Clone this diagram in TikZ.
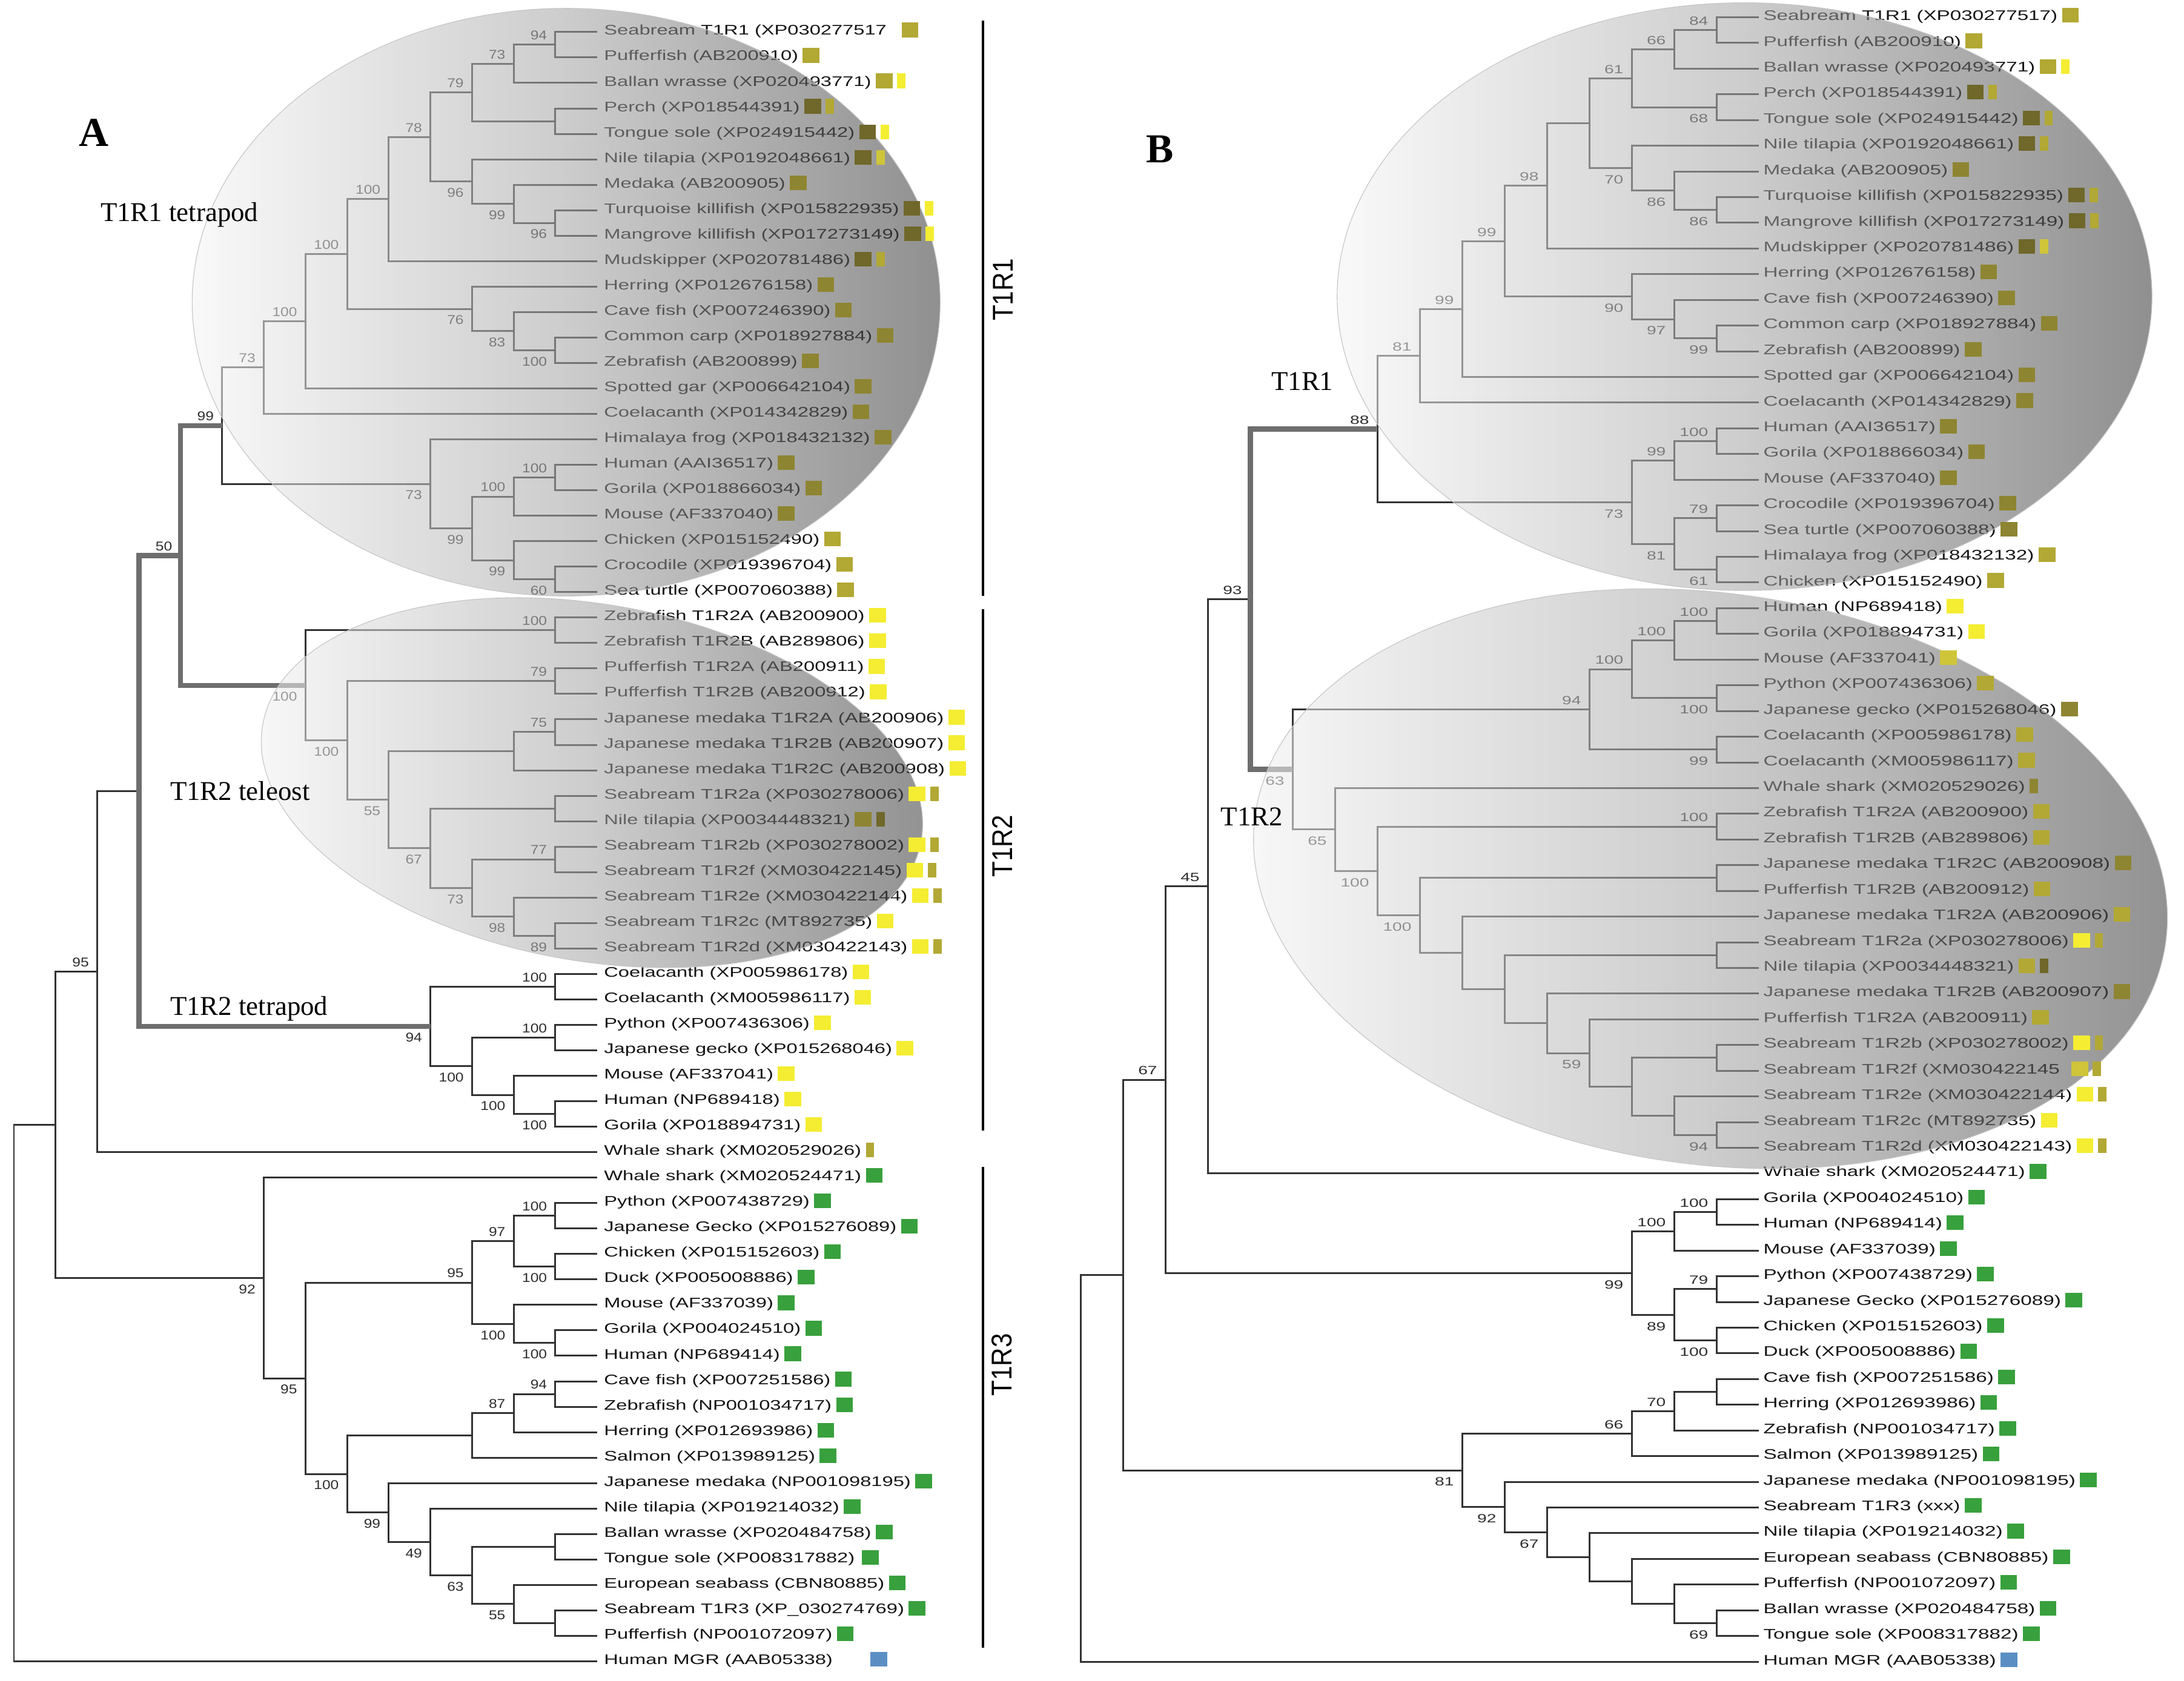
\documentclass[tikz,border=0pt]{standalone}
\usepackage{fontspec}
\setmainfont{Liberation Serif}
\newfontfamily\lfa[FakeStretch=1.42]{Liberation Sans}
\newfontfamily\lfb[FakeStretch=1.445]{Liberation Sans}
\newfontfamily\nfa[FakeStretch=1.16]{Liberation Sans}
\newfontfamily\nfb[FakeStretch=1.42]{Liberation Sans}
\newfontfamily\rfont[FakeStretch=0.89]{Liberation Sans}
\usetikzlibrary{calc}
\pgfdeclarelayer{bg}
\pgfdeclarelayer{ov}
\pgfsetlayers{bg,ov,main}
\definecolor{lnc}{HTML}{333333}
\definecolor{thkc}{HTML}{6E6E6E}
\definecolor{txt}{HTML}{151515}
\definecolor{numc}{HTML}{2E2E2E}
\definecolor{olA}{HTML}{B2A834}
\definecolor{olB}{HTML}{8E8532}
\definecolor{olC}{HTML}{70672A}
\definecolor{yel}{HTML}{F4ED32}
\definecolor{yelB}{HTML}{CFC53A}
\definecolor{grn}{HTML}{38A03C}
\definecolor{blu}{HTML}{5B8FC4}
\definecolor{ovL}{HTML}{F5F5F5}
\definecolor{ovM}{HTML}{A7A7A7}
\definecolor{ovR}{HTML}{3C3C3C}
\definecolor{ellc}{HTML}{C6C6C6}
\newcommand\mkn[4]{%
  \coordinate (tmp) at ($(#3)!0.5!(#4)$);
  \coordinate (#1) at (#2 |- tmp);
  \draw[br] (#1) |- (#3);
  \draw[br] (#1) |- (#4);
}
\newcommand\lup[3]{\node[#1,anchor=base east] (bl-#2) at ($(#2)+(-5.8,-3.6)$) {#3};}
\newcommand\ldn[3]{\node[#1,anchor=base east] (bl-#2) at ($(#2)+(-5.8,11.2)$) {#3};}
\def\tmpx{x}
\begin{document}
\begin{tikzpicture}[x=1pt,y=-1pt,
  br/.style={draw=lnc, line width=1.3pt},
  thk/.style={draw=thkc, line width=3.7pt},
  lfA/.style={font={\lfa\fontsize{10}{12}\selectfont}, inner sep=0pt, anchor=base west, text=txt},
  lfB/.style={font={\lfb\fontsize{10}{12}\selectfont}, inner sep=0pt, anchor=base west, text=txt},
  nA/.style={font={\nfa\fontsize{9.2}{11}\selectfont}, inner sep=0pt, text=numc},
  nB/.style={font={\nfb\fontsize{8.6}{10}\selectfont}, inner sep=0pt, text=numc},
  sq/.style={anchor=west, minimum width=12pt, minimum height=10.5pt, inner sep=0pt, outer sep=0pt},
  sqs/.style={sq, minimum width=6pt},
  ovl/.style={left color=ovL, right color=ovR, middle color=ovM, fill opacity=0.57, draw=ellc, draw opacity=1, line width=0.5pt},
  ann/.style={font={\fontsize{19.5}{21}\selectfont}, inner sep=0pt, anchor=base west},
  pl/.style={font={\bfseries\fontsize{29.5}{31}\selectfont}, inner sep=0pt, anchor=base},
  grpbar/.style={draw=black, line width=1.6pt},
  rl/.style={font={\rfont\fontsize{20.6}{22}\selectfont}, inner sep=0pt, rotate=90}]
\useasboundingbox (0,0) rectangle (1568,1207);
\begin{pgfonlayer}{bg}
\fill[white] (0,0) rectangle (1568,1207);
\end{pgfonlayer}
% leaf and level coordinates
\foreach \ii in {1,...,65}{\coordinate (la\ii) at (428.6,{23+18.28*(\ii-1)});}
\foreach \ii in {1,...,65}{\coordinate (lb\ii) at (1262.8,{12.4+18.45*(\ii-1)});}
\foreach \k in {0,...,14}{\coordinate (AL\k) at ({10+29.9*\k},0);}
\foreach \k in {0,...,16}{\coordinate (BL\k) at ({775.9+30.43*\k},0);}

\begin{pgfonlayer}{bg}
% ===== Tree A =====
\mkn{na94}{AL13}{la1}{la2}
\mkn{na73}{AL12}{na94}{la3}
\mkn{na45}{AL13}{la4}{la5}
\mkn{na79}{AL11}{na73}{na45}
\mkn{na96c}{AL13}{la8}{la9}
\mkn{na99b}{AL12}{la7}{na96c}
\mkn{na96}{AL11}{la6}{na99b}
\mkn{na78}{AL10}{na79}{na96}
\mkn{na100a}{AL9}{na78}{la10}
\mkn{na100g}{AL13}{la13}{la14}
\mkn{na83}{AL12}{la12}{na100g}
\mkn{na76}{AL11}{la11}{na83}
\mkn{na100b}{AL8}{na100a}{na76}
\mkn{na100c}{AL7}{na100b}{la15}
\mkn{na73b}{AL6}{na100c}{la16}
\mkn{na100h}{AL13}{la18}{la19}
\mkn{na100i}{AL12}{na100h}{la20}
\mkn{na60}{AL13}{la22}{la23}
\mkn{na99c}{AL12}{la21}{na60}
\mkn{na99d}{AL11}{na100i}{na99c}
\mkn{na73c}{AL10}{la17}{na99d}
\mkn{na99}{AL5}{na73b}{na73c}
\mkn{na100j}{AL13}{la24}{la25}
\mkn{na79b}{AL13}{la26}{la27}
\mkn{na75}{AL13}{la28}{la29}
\mkn{na12x}{AL12}{na75}{la30}
\mkn{na13x}{AL13}{la31}{la32}
\mkn{na77}{AL13}{la33}{la34}
\mkn{na89}{AL13}{la36}{la37}
\mkn{na98}{AL12}{la35}{na89}
\mkn{na73d}{AL11}{na77}{na98}
\mkn{na67}{AL10}{na13x}{na73d}
\mkn{na55}{AL9}{na12x}{na67}
\mkn{na100k}{AL8}{na79b}{na55}
\mkn{na100l}{AL7}{na100j}{na100k}
\mkn{na100m}{AL13}{la38}{la39}
\mkn{na100n}{AL13}{la40}{la41}
\mkn{na100o}{AL13}{la43}{la44}
\mkn{na100p}{AL12}{la42}{na100o}
\mkn{na100q}{AL11}{na100n}{na100p}
\mkn{na94t}{AL10}{na100m}{na100q}
\mkn{na50}{AL4}{na99}{na100l}
\mkn{na3}{AL3}{na50}{na94t}
\mkn{na95}{AL2}{na3}{la45}
\mkn{nc100a}{AL13}{la47}{la48}
\mkn{nc100b}{AL13}{la49}{la50}
\mkn{nc97}{AL12}{nc100a}{nc100b}
\mkn{nc100c}{AL13}{la52}{la53}
\mkn{nc100d}{AL12}{la51}{nc100c}
\mkn{nc95}{AL11}{nc97}{nc100d}
\mkn{nc94}{AL13}{la54}{la55}
\mkn{nc87}{AL12}{nc94}{la56}
\mkn{nc11}{AL11}{nc87}{la57}
\mkn{nc13}{AL13}{la60}{la61}
\mkn{nc13b}{AL13}{la63}{la64}
\mkn{nc55}{AL12}{la62}{nc13b}
\mkn{nc63}{AL11}{nc13}{nc55}
\mkn{nc49}{AL10}{la59}{nc63}
\mkn{nc99}{AL9}{la58}{nc49}
\mkn{nc100e}{AL8}{nc11}{nc99}
\mkn{nc95b}{AL7}{nc95}{nc100e}
\mkn{nc92}{AL6}{la46}{nc95b}
\mkn{na1n}{AL1}{na95}{nc92}
\mkn{na0}{AL0}{na1n}{la65}
\draw[thk] (na50) |- (na99);
\draw[thk] (na50) |- (na100l);
\draw[thk] (na3) |- (na50);
\draw[thk] (na3) |- (na94t);
% labels A
\lup{nA}{na94}{94}\lup{nA}{na73}{73}\lup{nA}{na79}{79}\lup{nA}{na78}{78}
\ldn{nA}{na96}{96}\ldn{nA}{na99b}{99}\ldn{nA}{na96c}{96}
\lup{nA}{na100a}{100}\lup{nA}{na100b}{100}\lup{nA}{na100c}{100}\lup{nA}{na73b}{73}
\ldn{nA}{na76}{76}\ldn{nA}{na83}{83}\ldn{nA}{na100g}{100}
\lup{nA}{na99}{99}\ldn{nA}{na73c}{73}\ldn{nA}{na99d}{99}
\lup{nA}{na100i}{100}\lup{nA}{na100h}{100}\ldn{nA}{na99c}{99}\ldn{nA}{na60}{60}
\lup{nA}{na50}{50}\lup{nA}{na100j}{100}\ldn{nA}{na100l}{100}\ldn{nA}{na100k}{100}
\lup{nA}{na79b}{79}\ldn{nA}{na55}{55}\lup{nA}{na75}{75}\ldn{nA}{na67}{67}
\ldn{nA}{na73d}{73}\lup{nA}{na77}{77}\ldn{nA}{na98}{98}\ldn{nA}{na89}{89}
\lup{nA}{na95}{95}\ldn{nA}{na94t}{94}\lup{nA}{na100m}{100}\ldn{nA}{na100q}{100}
\lup{nA}{na100n}{100}\ldn{nA}{na100p}{100}\ldn{nA}{na100o}{100}
\ldn{nA}{nc92}{92}\ldn{nA}{nc95b}{95}\lup{nA}{nc95}{95}\lup{nA}{nc97}{97}
\lup{nA}{nc100a}{100}\ldn{nA}{nc100b}{100}\ldn{nA}{nc100d}{100}\ldn{nA}{nc100c}{100}
\lup{nA}{nc87}{87}\lup{nA}{nc94}{94}\ldn{nA}{nc100e}{100}\ldn{nA}{nc99}{99}
\ldn{nA}{nc49}{49}\ldn{nA}{nc63}{63}\ldn{nA}{nc55}{55}

% ===== Tree B =====
\mkn{nb84}{BL15}{lb1}{lb2}
\mkn{nb66}{BL14}{nb84}{lb3}
\mkn{nb68}{BL15}{lb4}{lb5}
\mkn{nb61}{BL13}{nb66}{nb68}
\mkn{nb86b}{BL15}{lb8}{lb9}
\mkn{nb86}{BL14}{lb7}{nb86b}
\mkn{nb70}{BL13}{lb6}{nb86}
\mkn{nb12}{BL12}{nb61}{nb70}
\mkn{nb98}{BL11}{nb12}{lb10}
\mkn{nb99c}{BL15}{lb13}{lb14}
\mkn{nb97}{BL14}{lb12}{nb99c}
\mkn{nb90}{BL13}{lb11}{nb97}
\mkn{nb99b}{BL10}{nb98}{nb90}
\mkn{nb99a}{BL9}{nb99b}{lb15}
\mkn{nb81}{BL8}{nb99a}{lb16}
\mkn{nb100a}{BL15}{lb17}{lb18}
\mkn{nb99d}{BL14}{nb100a}{lb19}
\mkn{nb79}{BL15}{lb20}{lb21}
\mkn{nb61b}{BL15}{lb22}{lb23}
\mkn{nb81b}{BL14}{nb79}{nb61b}
\mkn{nb73}{BL13}{nb99d}{nb81b}
\mkn{nb88}{BL7}{nb81}{nb73}
\mkn{nb100b}{BL15}{lb24}{lb25}
\mkn{nb100c}{BL14}{nb100b}{lb26}
\mkn{nb100d}{BL15}{lb27}{lb28}
\mkn{nb100e}{BL13}{nb100c}{nb100d}
\mkn{nb99e}{BL15}{lb29}{lb30}
\mkn{nb94}{BL12}{nb100e}{nb99e}
\mkn{nb100f}{BL15}{lb32}{lb33}
\mkn{nbx1}{BL15}{lb34}{lb35}
\mkn{nbx2}{BL15}{lb37}{lb38}
\mkn{nbx3}{BL15}{lb41}{lb42}
\mkn{nb94b}{BL15}{lb44}{lb45}
\mkn{nbx4}{BL14}{lb43}{nb94b}
\mkn{nbx5}{BL13}{nbx3}{nbx4}
\mkn{nb59}{BL12}{lb40}{nbx5}
\mkn{nbx6}{BL11}{lb39}{nb59}
\mkn{nbx7}{BL10}{nbx2}{nbx6}
\mkn{nbx8}{BL9}{lb36}{nbx7}
\mkn{nb100g}{BL8}{nbx1}{nbx8}
\mkn{nb100h}{BL7}{nb100f}{nb100g}
\mkn{nb65}{BL6}{lb31}{nb100h}
\mkn{nb63}{BL5}{nb94}{nb65}
\mkn{nb93}{BL4}{nb88}{nb63}
\mkn{nb45}{BL3}{nb93}{lb46}
\mkn{nb100i}{BL15}{lb47}{lb48}
\mkn{nb100j}{BL14}{nb100i}{lb49}
\mkn{nb79b}{BL15}{lb50}{lb51}
\mkn{nb100k}{BL15}{lb52}{lb53}
\mkn{nb89}{BL14}{nb79b}{nb100k}
\mkn{nb99f}{BL13}{nb100j}{nb89}
\mkn{nb67}{BL2}{nb45}{nb99f}
\mkn{nbx9}{BL15}{lb54}{lb55}
\mkn{nb70b}{BL14}{nbx9}{lb56}
\mkn{nb66b}{BL13}{nb70b}{lb57}
\mkn{nb69}{BL15}{lb63}{lb64}
\mkn{nbx10}{BL14}{lb62}{nb69}
\mkn{nbx11}{BL13}{lb61}{nbx10}
\mkn{nbx12}{BL12}{lb60}{nbx11}
\mkn{nb67b}{BL11}{lb59}{nbx12}
\mkn{nb92}{BL10}{lb58}{nb67b}
\mkn{nb81c}{BL9}{nb66b}{nb92}
\mkn{nbx13}{BL1}{nb67}{nb81c}
\mkn{nbroot}{BL0}{nbx13}{lb65}
\draw[thk] (nb93) |- (nb88);
\draw[thk] (nb93) |- (nb63);
% labels B
\lup{nB}{nb84}{84}\lup{nB}{nb66}{66}\ldn{nB}{nb68}{68}\lup{nB}{nb61}{61}
\ldn{nB}{nb70}{70}\ldn{nB}{nb86}{86}\ldn{nB}{nb86b}{86}\lup{nB}{nb98}{98}
\lup{nB}{nb99b}{99}\ldn{nB}{nb90}{90}\ldn{nB}{nb97}{97}\ldn{nB}{nb99c}{99}
\lup{nB}{nb99a}{99}\lup{nB}{nb81}{81}\lup{nB}{nb88}{88}\ldn{nB}{nb73}{73}
\lup{nB}{nb99d}{99}\lup{nB}{nb100a}{100}\ldn{nB}{nb81b}{81}\lup{nB}{nb79}{79}
\ldn{nB}{nb61b}{61}\lup{nB}{nb93}{93}\ldn{nB}{nb63}{63}\lup{nB}{nb94}{94}
\lup{nB}{nb100e}{100}\lup{nB}{nb100c}{100}\lup{nB}{nb100b}{100}\ldn{nB}{nb100d}{100}
\ldn{nB}{nb99e}{99}\ldn{nB}{nb65}{65}\ldn{nB}{nb100h}{100}\lup{nB}{nb100f}{100}
\ldn{nB}{nb100g}{100}\ldn{nB}{nb59}{59}\ldn{nB}{nb94b}{94}\lup{nB}{nb45}{45}
\lup{nB}{nb67}{67}\ldn{nB}{nb99f}{99}\lup{nB}{nb100j}{100}\lup{nB}{nb100i}{100}
\ldn{nB}{nb89}{89}\lup{nB}{nb79b}{79}\ldn{nB}{nb100k}{100}\ldn{nB}{nb81c}{81}
\lup{nB}{nb66b}{66}\lup{nB}{nb70b}{70}\ldn{nB}{nb92}{92}\ldn{nB}{nb67b}{67}
\ldn{nB}{nb69}{69}
\end{pgfonlayer}

% ===== overlay ellipses =====
\begin{pgfonlayer}{ov}
\shadedraw[ovl] (406.5,217) ellipse [x radius=268.5, y radius=211];
\shadedraw[ovl, shift={(425,562)}, rotate=-10] (0,0) ellipse [x radius=240, y radius=128];
\shadedraw[ovl] (1252.5,213) ellipse [x radius=292.5, y radius=211];
\shadedraw[ovl, shift={(1228,631)}, rotate=-8] (0,0) ellipse [x radius=330, y radius=205];
\end{pgfonlayer}

% ===== leaves A =====
\foreach \ii/\tx/\ca/\cb/\gp in {
1/{Seabream T1R1 (XP030277517}/olA/x/10.5,
2/{Pufferfish (AB200910)}/olA/x/3,
3/{Ballan wrasse (XP020493771)}/olA/yel/3,
4/{Perch (XP018544391)}/olC/olA/3,
5/{Tongue sole (XP024915442)}/olC/yel/3,
6/{Nile tilapia (XP0192048661)}/olC/yelB/3,
7/{Medaka (AB200905)}/olB/x/3,
8/{Turquoise killifish (XP015822935)}/olC/yel/3,
9/{Mangrove killifish (XP017273149)}/olC/yel/3,
10/{Mudskipper (XP020781486)}/olC/olA/3,
11/{Herring (XP012676158)}/olB/x/3,
12/{Cave fish (XP007246390)}/olB/x/3,
13/{Common carp (XP018927884)}/olB/x/3,
14/{Zebrafish (AB200899)}/olB/x/3,
15/{Spotted gar (XP006642104)}/olB/x/3,
16/{Coelacanth (XP014342829)}/olB/x/3,
17/{Himalaya frog (XP018432132)}/olB/x/3,
18/{Human (AAI36517)}/olB/x/3,
19/{Gorila (XP018866034)}/olB/x/3,
20/{Mouse (AF337040)}/olB/x/3,
21/{Chicken (XP015152490)}/olA/x/3,
22/{Crocodile (XP019396704)}/olA/x/3,
23/{Sea turtle (XP007060388)}/olA/x/3,
24/{Zebrafish T1R2A (AB200900)}/yel/x/3,
25/{Zebrafish T1R2B (AB289806)}/yel/x/3,
26/{Pufferfish T1R2A (AB200911)}/yel/x/3,
27/{Pufferfish T1R2B (AB200912)}/yel/x/3,
28/{Japanese medaka T1R2A (AB200906)}/yel/x/3,
29/{Japanese medaka T1R2B (AB200907)}/yel/x/3,
30/{Japanese medaka T1R2C (AB200908)}/yel/x/3,
31/{Seabream T1R2a (XP030278006)}/yel/olA/3,
32/{Nile tilapia (XP0034448321)}/olB/olC/3,
33/{Seabream T1R2b (XP030278002)}/yel/olA/3,
34/{Seabream T1R2f (XM030422145)}/yel/olA/3,
35/{Seabream T1R2e (XM030422144)}/yel/olA/3,
36/{Seabream T1R2c (MT892735)}/yel/x/3,
37/{Seabream T1R2d (XM030422143)}/yel/olA/3,
38/{Coelacanth (XP005986178)}/yel/x/3,
39/{Coelacanth (XM005986117)}/yel/x/3,
40/{Python (XP007436306)}/yel/x/3,
41/{Japanese gecko (XP015268046)}/yel/x/3,
42/{Mouse (AF337041)}/yel/x/3,
43/{Human (NP689418)}/yel/x/3,
44/{Gorila (XP018894731)}/yel/x/3,
45/{Whale shark (XM020529026)}/x/olA/3,
46/{Whale shark (XM020524471)}/grn/x/3,
47/{Python (XP007438729)}/grn/x/3,
48/{Japanese Gecko (XP015276089)}/grn/x/3,
49/{Chicken (XP015152603)}/grn/x/3,
50/{Duck (XP005008886)}/grn/x/3,
51/{Mouse (AF337039)}/grn/x/3,
52/{Gorila (XP004024510)}/grn/x/3,
53/{Human (NP689414)}/grn/x/3,
54/{Cave fish (XP007251586)}/grn/x/3,
55/{Zebrafish (NP001034717)}/grn/x/3,
56/{Herring (XP012693986)}/grn/x/3,
57/{Salmon (XP013989125)}/grn/x/3,
58/{Japanese medaka (NP001098195)}/grn/x/3,
59/{Nile tilapia (XP019214032)}/grn/x/3,
60/{Ballan wrasse (XP020484758)}/grn/x/3,
61/{Tongue sole (XP008317882)}/grn/x/5,
62/{European seabass (CBN80885)}/grn/x/3,
63/{Seabream T1R3 (XP\_030274769)}/grn/x/3,
64/{Pufferfish (NP001072097)}/grn/x/3,
65/{Human MGR (AAB05338)}/blu/x/27}{
  \begin{pgfonlayer}{bg}
  \node[lfA] (ta\ii) at ($(la\ii)+(4.9,2.2)$) {\tx};
  \end{pgfonlayer}
  \edef\tmpc{\ca}\edef\tmpd{\cb}
  \ifx\tmpc\tmpx
    \node[sqs,fill=\cb] (sa\ii) at ($(ta\ii.base east)+(\gp,-3.7)$) {};
  \else
    \node[sq,fill=\ca] (sa\ii) at ($(ta\ii.base east)+(\gp,-3.7)$) {};
    \ifx\tmpd\tmpx\else
      \node[sqs,fill=\cb] (sb\ii) at ($(sa\ii.east)+(3.4,0)$) {};
    \fi
  \fi
}

% ===== leaves B =====
\foreach \ii/\tx/\ca/\cb/\gp in {
1/{Seabream T1R1 (XP030277517)}/olA/x/3,
2/{Pufferfish (AB200910)}/olA/x/3,
3/{Ballan wrasse (XP020493771)}/olA/yel/3,
4/{Perch (XP018544391)}/olC/olA/3,
5/{Tongue sole (XP024915442)}/olC/olA/3,
6/{Nile tilapia (XP0192048661)}/olC/olA/3,
7/{Medaka (AB200905)}/olB/x/3,
8/{Turquoise killifish (XP015822935)}/olC/olA/3,
9/{Mangrove killifish (XP017273149)}/olC/olA/3,
10/{Mudskipper (XP020781486)}/olC/yelB/3,
11/{Herring (XP012676158)}/olB/x/3,
12/{Cave fish (XP007246390)}/olB/x/3,
13/{Common carp (XP018927884)}/olB/x/3,
14/{Zebrafish (AB200899)}/olB/x/3,
15/{Spotted gar (XP006642104)}/olB/x/3,
16/{Coelacanth (XP014342829)}/olB/x/3,
17/{Human (AAI36517)}/olB/x/3,
18/{Gorila (XP018866034)}/olB/x/3,
19/{Mouse (AF337040)}/olB/x/3,
20/{Crocodile (XP019396704)}/olB/x/3,
21/{Sea turtle (XP007060388)}/olB/x/3,
22/{Himalaya frog (XP018432132)}/olA/x/3,
23/{Chicken (XP015152490)}/olA/x/3,
24/{Human (NP689418)}/yel/x/3,
25/{Gorila (XP018894731)}/yel/x/3,
26/{Mouse (AF337041)}/yelB/x/3,
27/{Python (XP007436306)}/olA/x/3,
28/{Japanese gecko (XP015268046)}/olB/x/3,
29/{Coelacanth (XP005986178)}/olA/x/3,
30/{Coelacanth (XM005986117)}/olA/x/3,
31/{Whale shark (XM020529026)}/x/olB/3,
32/{Zebrafish T1R2A (AB200900)}/olA/x/3,
33/{Zebrafish T1R2B (AB289806)}/olA/x/3,
34/{Japanese medaka T1R2C (AB200908)}/olB/x/3,
35/{Pufferfish T1R2B (AB200912)}/olA/x/3,
36/{Japanese medaka T1R2A (AB200906)}/olA/x/3,
37/{Seabream T1R2a (XP030278006)}/yel/olA/3,
38/{Nile tilapia (XP0034448321)}/olA/olC/3,
39/{Japanese medaka T1R2B (AB200907)}/olB/x/3,
40/{Pufferfish T1R2A (AB200911)}/olA/x/3,
41/{Seabream T1R2b (XP030278002)}/yel/olA/3,
42/{Seabream T1R2f (XM030422145}/yelB/olA/8,
43/{Seabream T1R2e (XM030422144)}/yel/olA/3,
44/{Seabream T1R2c (MT892735)}/yel/x/3,
45/{Seabream T1R2d (XM030422143)}/yel/olA/3,
46/{Whale shark (XM020524471)}/grn/x/3,
47/{Gorila (XP004024510)}/grn/x/3,
48/{Human (NP689414)}/grn/x/3,
49/{Mouse (AF337039)}/grn/x/3,
50/{Python (XP007438729)}/grn/x/3,
51/{Japanese Gecko (XP015276089)}/grn/x/3,
52/{Chicken (XP015152603)}/grn/x/3,
53/{Duck (XP005008886)}/grn/x/3,
54/{Cave fish (XP007251586)}/grn/x/3,
55/{Herring (XP012693986)}/grn/x/3,
56/{Zebrafish (NP001034717)}/grn/x/3,
57/{Salmon (XP013989125)}/grn/x/3,
58/{Japanese medaka (NP001098195)}/grn/x/3,
59/{Seabream T1R3 (xxx)}/grn/x/3,
60/{Nile tilapia (XP019214032)}/grn/x/3,
61/{European seabass (CBN80885)}/grn/x/3,
62/{Pufferfish (NP001072097)}/grn/x/3,
63/{Ballan wrasse (XP020484758)}/grn/x/3,
64/{Tongue sole (XP008317882)}/grn/x/3,
65/{Human MGR (AAB05338)}/blu/x/3}{
  \begin{pgfonlayer}{bg}
  \node[lfB] (tb\ii) at ($(lb\ii)+(3,2.2)$) {\tx};
  \end{pgfonlayer}
  \edef\tmpc{\ca}\edef\tmpd{\cb}
  \ifx\tmpc\tmpx
    \node[sqs,fill=\cb] (sc\ii) at ($(tb\ii.base east)+(\gp,-3.7)$) {};
  \else
    \node[sq,fill=\ca] (sc\ii) at ($(tb\ii.base east)+(\gp,-3.7)$) {};
    \ifx\tmpd\tmpx\else
      \node[sqs,fill=\cb] (sd\ii) at ($(sc\ii.east)+(3.4,0)$) {};
    \fi
  \fi
}

% ===== annotations =====
\node[pl] (pA) at (67.3,104.8) {A};
\node[pl] (pB) at (832.9,116.8) {B};
\node[ann] (tA1) at (72,158.8) {T1R1 tetrapod};
\node[ann] (tA2) at (122,574.5) {T1R2 teleost};
\node[ann] (tA3) at (122,728.8) {T1R2 tetrapod};
\node[ann] (tB1) at (912.6,280.2) {T1R1};
\node[ann] (tB2) at (876.3,592.8) {T1R2};
\coordinate (g1t) at (705.8,14.8);  \coordinate (g1b) at (705.8,428);
\coordinate (g2t) at (705.8,437.4); \coordinate (g2b) at (705.8,812);
\coordinate (g3t) at (705.8,838);   \coordinate (g3b) at (705.8,1183);
\draw[grpbar] (g1t) -- (g1b);
\draw[grpbar] (g2t) -- (g2b);
\draw[grpbar] (g3t) -- (g3b);
\node[rl] (gl1) at (720,208) {T1R1};
\node[rl] (gl2) at (719.5,607.5) {T1R2};
\node[rl] (gl3) at (719.5,980) {T1R3};
\end{tikzpicture}
\end{document}
